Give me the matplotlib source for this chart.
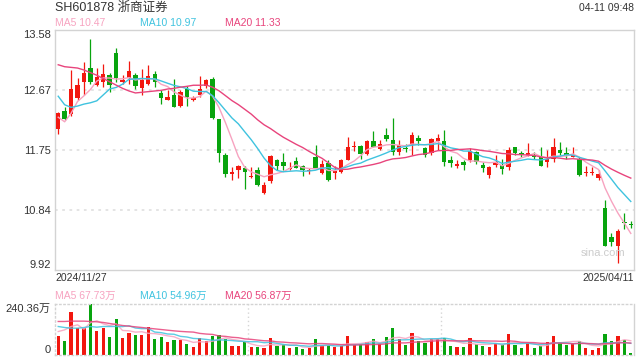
import numpy as np
import pandas as pd
import matplotlib
matplotlib.use("Agg")
import matplotlib.pyplot as plt

plt.rcParams['font.family'] = ['Liberation Sans', 'Noto Sans CJK SC']

# ---- data ----
opens = [12.07, 12.35, 12.30, 12.54, 12.78, 13.00, 12.74, 12.79, 12.89, 13.23,
         12.78, 12.85, 12.89, 12.70, 12.76, 12.91, 12.62, 12.52, 12.59, 12.42,
         12.68, 12.52, 12.59, 12.73, 12.84, 12.22, 11.68, 11.39, 11.45, 11.48,
         11.34, 11.45, 11.10, 11.28, 11.60, 11.57, 11.46, 11.58, 11.50, 11.43,
         11.64, 11.40, 11.55, 11.40, 11.42, 11.60, 11.79, 11.81, 11.69, 11.89,
         11.77, 11.98, 11.90, 11.72, 11.78, 11.83, 11.94, 11.78, 11.70, 11.89,
         11.89, 11.60, 11.50, 11.57, 11.59, 11.72, 11.52, 11.37, 11.52, 11.52,
         11.49, 11.79, 11.70, 11.67, 11.67, 11.65, 11.57, 11.62, 11.75, 11.70,
         11.65, 11.62, 11.40, 11.40, 11.33, 10.86, 10.42, 10.28, 10.65, 10.62]
highs = [12.33, 12.40, 12.97, 12.85, 13.09, 13.45, 13.00, 13.06, 12.93, 13.30,
         12.89, 13.10, 12.93, 12.98, 13.05, 12.95, 12.67, 12.67, 12.83, 12.67,
         12.72, 12.57, 12.88, 12.84, 12.87, 12.23, 11.71, 11.49, 11.52, 11.51,
         11.49, 11.49, 11.26, 11.67, 11.62, 11.70, 11.56, 11.65, 11.52, 11.47,
         11.83, 11.60, 11.59, 11.51, 11.62, 11.95, 11.88, 11.83, 11.91, 12.04,
         11.91, 12.09, 12.24, 11.90, 11.84, 12.02, 11.98, 11.80, 11.94, 12.00,
         12.06, 11.66, 11.60, 11.60, 11.78, 11.74, 11.57, 11.51, 11.67, 11.62,
         11.80, 11.80, 11.74, 11.85, 11.72, 11.79, 11.75, 11.94, 11.87, 11.80,
         11.79, 11.64, 11.50, 11.49, 11.45, 10.98, 10.48, 10.54, 10.79, 10.67]
lows = [11.99, 12.21, 12.27, 12.52, 12.59, 12.76, 12.73, 12.71, 12.64, 12.79,
        12.76, 12.76, 12.68, 12.59, 12.74, 12.71, 12.45, 12.51, 12.40, 12.40,
        12.42, 12.49, 12.56, 12.69, 12.23, 11.57, 11.34, 11.30, 11.32, 11.15,
        11.33, 11.20, 11.08, 11.25, 11.45, 11.45, 11.45, 11.47, 11.36, 11.38,
        11.47, 11.39, 11.28, 11.31, 11.40, 11.59, 11.74, 11.61, 11.67, 11.79,
        11.75, 11.88, 11.67, 11.68, 11.72, 11.67, 11.83, 11.65, 11.68, 11.75,
        11.51, 11.49, 11.47, 11.45, 11.57, 11.54, 11.41, 11.33, 11.49, 11.38,
        11.45, 11.68, 11.65, 11.66, 11.62, 11.50, 11.49, 11.56, 11.67, 11.61,
        11.64, 11.36, 11.36, 11.37, 11.30, 10.28, 10.28, 10.02, 10.54, 10.56]
closes = [12.31, 12.22, 12.68, 12.74, 12.93, 12.79, 12.87, 12.91, 12.74, 12.85,
          12.81, 12.96, 12.73, 12.82, 12.88, 12.78, 12.55, 12.56, 12.41, 12.63,
          12.56, 12.55, 12.68, 12.82, 12.24, 11.70, 11.39, 11.41, 11.51, 11.41,
          11.36, 11.21, 11.22, 11.66, 11.51, 11.50, 11.47, 11.48, 11.44, 11.45,
          11.48, 11.53, 11.29, 11.43, 11.60, 11.79, 11.80, 11.69, 11.89, 11.80,
          11.84, 11.92, 11.72, 11.83, 11.76, 11.98, 11.89, 11.68, 11.92, 11.94,
          11.56, 11.55, 11.54, 11.52, 11.74, 11.56, 11.47, 11.49, 11.56, 11.46,
          11.75, 11.70, 11.68, 11.71, 11.65, 11.51, 11.62, 11.79, 11.70, 11.67,
          11.68, 11.37, 11.41, 11.41, 11.39, 10.28, 10.35, 10.51, 10.64, 10.61]
# volume, 万 shares
volumes = [90.1, 66.4, 200.7, 126.4, 126.4, 240.36, 113.8, 126.4, 85.3, 170.6,
           82.2, 105.9, 94.8, 94.8, 132.7, 75.8, 85.3, 63.2, 72.7, 71.1,
           52.1, 37.9, 79.0, 64.8, 90.1, 94.8, 75.8, 42.7, 42.7, 60.0,
           37.9, 37.9, 33.2, 80.6, 42.7, 47.4, 33.2, 37.9, 28.4, 33.2,
           75.8, 42.7, 47.4, 37.9, 42.7, 90.1, 47.4, 52.1, 61.6, 75.8,
           52.1, 85.3, 128.0, 75.8, 47.4, 104.3, 66.4, 56.9, 75.8, 75.8,
           80.6, 42.7, 37.9, 37.9, 80.6, 52.1, 42.7, 37.9, 56.9, 47.4,
           99.5, 47.4, 33.2, 56.9, 33.2, 42.7, 61.6, 90.1, 61.6, 47.4,
           56.9, 66.4, 33.2, 23.7, 33.2, 99.5, 66.4, 90.1, 71.1, 9.5]

# MA values at the left edge (window reaches before the first shown day)
ma5_head = [12.25, 12.18, 12.31, 12.49]
ma10_head = [12.57, 12.44, 12.40, 12.42, 12.45, 12.47, 12.50, 12.59, 12.68]
ma20_head = [13.05, 13.02, 13.01, 13.00, 12.97, 12.93, 12.89, 12.84, 12.79, 12.74,
             12.69, 12.65, 12.62, 12.63, 12.64, 12.65, 12.66, 12.68, 12.69]
vma5_head = [110.6, 118.5, 134.3, 142.2]
vma10_head = [134.3, 129.6, 126.4, 126.4, 129.6, 134.3, 131.1, 134.3, 134.3]
vma20_head = [158.0, 158.0, 159.6, 159.6, 159.6, 158.0, 156.4, 153.3, 148.5, 143.8,
              139.0, 135.9, 132.7, 129.6, 126.4, 123.2, 120.1, 116.9, 113.8]

# legend values as printed on the chart
ma_last = [10.47, 10.97, 11.33]
vma_last = [67.73, 54.96, 56.87]

price_ticks = [13.58, 12.67, 11.75, 10.84, 9.92]
vol_max = 240.36
first_date = "2024/11/27"
last_date = "2025/04/11"

RED = '#f2170f'
GREEN = '#08a40e'
C_MA5 = '#f7a3c0'
C_MA10 = '#3fc3df'
C_MA20 = '#e8447c'
TXT = '#333333'
BORDER = '#d3d3d3'


def moving(values, n, head):
    s = pd.Series(values).rolling(n).mean().to_numpy()
    s[:len(head)] = head
    return s


o = np.array(opens)
h = np.array(highs)
l = np.array(lows)
c = np.array(closes)
v = np.array(volumes)
x = np.arange(len(c))
colors = [RED if cc >= oo else GREEN for oo, cc in zip(o, c)]

fig = plt.figure(figsize=(6.4, 3.6), dpi=100)
ax = fig.add_axes([55 / 640, 1 - 270 / 360, 579 / 640, 240 / 360])
axv = fig.add_axes([55 / 640, 1 - 355 / 360, 579 / 640, 51 / 360])

# ---- price panel ----
ax.vlines(x, l, h, colors=colors, linewidth=0.9, zorder=2)
body = np.maximum(np.abs(c - o), 0.015)
ax.bar(x, body, bottom=np.minimum(o, c), width=0.68, color=colors,
       linewidth=0, zorder=3)
ax.plot(x, moving(c, 5, ma5_head), color=C_MA5, lw=1.0, zorder=4)
ax.plot(x, moving(c, 10, ma10_head), color=C_MA10, lw=1.0, zorder=4)
ax.plot(x, moving(c, 20, ma20_head), color=C_MA20, lw=1.0, zorder=4)

ax.set_xlim(-0.5, len(c) - 0.5)
ax.set_ylim(price_ticks[-1], price_ticks[0])
for t in price_ticks[1:-1]:
    ax.axhline(t, color='#e2e2e2', lw=1.3, ls=(0, (1.5, 2.5)), zorder=1)
ax.set_xticks([])
ax.set_yticks(price_ticks)
ax.set_yticklabels(['%.2f' % t for t in price_ticks])
ax.tick_params(axis='y', length=0, pad=3, labelsize=8, labelcolor=TXT)
labs = ax.get_yticklabels()
labs[0].set_va('top')
labs[-1].set_va('bottom')
for sp in ax.spines.values():
    sp.set_color(BORDER)
    sp.set_linewidth(1)

fig.text(55 / 640, 1 - 8 / 360, 'SH601878 浙商证券', fontsize=9, color=TXT,
         ha='left', va='center')
fig.text(634 / 640, 1 - 8 / 360, '04-11 09:48', fontsize=7.5, color=TXT,
         ha='right', va='center')
for name, val, col, px in zip(['MA5', 'MA10', 'MA20'], ma_last,
                              [C_MA5, C_MA10, C_MA20], [55, 140, 225]):
    fig.text(px / 640, 1 - 23.5 / 360, '%s %.2f' % (name, val), fontsize=7.5,
             color=col, ha='left', va='center')
fig.text(55 / 640, 1 - 278 / 360, first_date, fontsize=7.5, color=TXT,
         ha='left', va='center')
fig.text(634 / 640, 1 - 278 / 360, last_date, fontsize=7.5, color=TXT,
         ha='right', va='center')
ax.text(0.985, 0.07, 'sina.com', transform=ax.transAxes, fontsize=8,
        color='#cccccc', ha='right', va='center')

# ---- volume panel ----
axv.bar(x, v, width=0.5, color=colors, linewidth=0, zorder=2)
axv.plot(x, moving(v, 5, vma5_head), color=C_MA5, lw=1.0, alpha=0.85, zorder=3)
axv.plot(x, moving(v, 10, vma10_head), color=C_MA10, lw=1.0, alpha=0.85, zorder=3)
axv.plot(x, moving(v, 20, vma20_head), color=C_MA20, lw=1.0, alpha=0.85, zorder=3)
axv.set_xlim(-0.5, len(c) - 0.5)
axv.set_ylim(0, vol_max)
for xv in [29.5, 59.5]:
    axv.axvline(xv, color='#d6d6d6', lw=1, ls=(0, (1, 2)), zorder=1)
axv.set_xticks([])
axv.set_yticks([0, vol_max])
axv.set_yticklabels(['0', '%.2f万' % vol_max])
axv.tick_params(axis='y', length=0, pad=3, labelsize=8, labelcolor=TXT)
vl = axv.get_yticklabels()
vl[0].set_va('bottom')
vl[1].set_va('top')
for name, sp in axv.spines.items():
    sp.set_color(BORDER)
    sp.set_linewidth(1)
    if name != 'right':
        sp.set_linestyle((0, (1, 2)))

for name, val, col, px in zip(['MA5', 'MA10', 'MA20'], vma_last,
                              [C_MA5, C_MA10, C_MA20], [55, 140, 225]):
    fig.text(px / 640, 1 - 296 / 360, '%s %.2f万' % (name, val), fontsize=7.5,
             color=col, ha='left', va='center')

fig.savefig('out.png', dpi=100)
